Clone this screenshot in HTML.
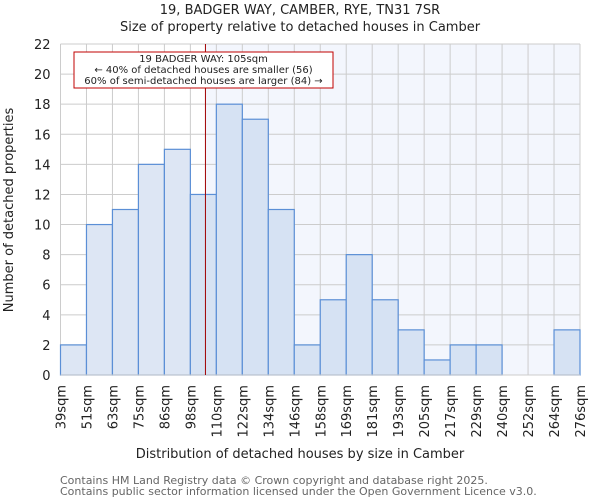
<!DOCTYPE html>
<html><head><meta charset="utf-8"><style>
body{margin:0;background:#fff;font-family:"DejaVu Sans","Liberation Sans",sans-serif;}
text{font-family:"DejaVu Sans","Liberation Sans",sans-serif;}
</style></head><body>
<svg id="c" width="600" height="500" xmlns="http://www.w3.org/2000/svg"></svg>
<script>
const binLabels=["39sqm","51sqm","63sqm","75sqm","86sqm","98sqm","110sqm","122sqm","134sqm","146sqm","158sqm","169sqm","181sqm","193sqm","205sqm","217sqm","229sqm","240sqm","252sqm","264sqm","276sqm"];
const counts=[2,10,11,14,15,12,18,17,11,2,5,8,5,3,1,2,2,0,0,3];
const yTicks=[0,2,4,6,8,10,12,14,16,18,20,22];
const propertyBinPos=5.58;
const svg=document.getElementById('c');
const NS='http://www.w3.org/2000/svg';
const L=60.5,R=580,T=44,B=375,yMax=22;
const n=counts.length,bw=(R-L)/n;
const x=i=>L+i*bw;
const y=v=>B-(v/yMax)*(B-T);
function el(tag,attrs,name,txt){const e=document.createElementNS(NS,tag);for(const k in attrs)e.setAttribute(k,attrs[k]);


if(txt!==undefined)e.textContent=txt;svg.appendChild(e);return e;}
const px=x(propertyBinPos);
el('rect',{x:px,y:T,width:R-px,height:B-T,fill:'#f3f6fd'},'larger-region-background');
yTicks.forEach(t=>{el('line',{x1:L,x2:R,y1:y(t),y2:y(t),stroke:'#cccccc','stroke-width':1},'y-gridline');
el('text',{x:L-10,y:y(t)+5,'text-anchor':'end','font-size':13,fill:'#222'},'y-tick-label',t);});
binLabels.forEach((lb,i)=>{el('line',{x1:x(i),x2:x(i),y1:T,y2:B,stroke:'#cccccc','stroke-width':1},'x-gridline');
const tx=x(i)+5;const ty=B+10;
el('text',{x:tx,y:ty,'text-anchor':'end','font-size':13,fill:'#222',transform:`rotate(-90 ${tx} ${ty})`},'x-tick-label',lb);});
counts.forEach((v,i)=>{const left=x(i)+bw<=px;
el('rect',{x:x(i),y:y(v),width:bw,height:B-y(v),fill:left?'#dde6f4':'#d6e2f3',stroke:'#5b8fd6','stroke-width':1.2},'bar-'+binLabels[i]);});
el('line',{x1:L,x2:R,y1:B,y2:B,stroke:'#ccc'},'x-axis');
el('line',{x1:px,x2:px,y1:T,y2:B,stroke:'#a00000','stroke-width':1},'property-marker-line');
el('rect',{x:74,y:52,width:259,height:36,fill:'#fff',stroke:'#c00000','stroke-width':1},'annotation-box');
el('text',{x:203.5,y:62,'text-anchor':'middle','font-size':10,fill:'#222'},'annotation-title','19 BADGER WAY: 105sqm');
el('text',{x:203.5,y:73,'text-anchor':'middle','font-size':10,fill:'#222'},'annotation-smaller','← 40% of detached houses are smaller (56)');
el('text',{x:203.5,y:84,'text-anchor':'middle','font-size':10,fill:'#222'},'annotation-larger','60% of semi-detached houses are larger (84) →');
el('text',{x:300,y:14,'text-anchor':'middle','font-size':13,fill:'#222'},'chart-title','19, BADGER WAY, CAMBER, RYE, TN31 7SR');
el('text',{x:300,y:31,'text-anchor':'middle','font-size':13,fill:'#222'},'chart-subtitle','Size of property relative to detached houses in Camber');
el('text',{x:300,y:458,'text-anchor':'middle','font-size':13,fill:'#222'},'x-axis-title','Distribution of detached houses by size in Camber');
el('text',{x:13,y:210,'text-anchor':'middle','font-size':13,fill:'#222',transform:'rotate(-90 13 210)'},'y-axis-title','Number of detached properties');
el('text',{x:60,y:484,'font-size':11,fill:'#666'},'footer-line-1','Contains HM Land Registry data © Crown copyright and database right 2025.');
el('text',{x:60,y:495,'font-size':11,fill:'#666'},'footer-line-2','Contains public sector information licensed under the Open Government Licence v3.0.');
</script>
</body></html>
